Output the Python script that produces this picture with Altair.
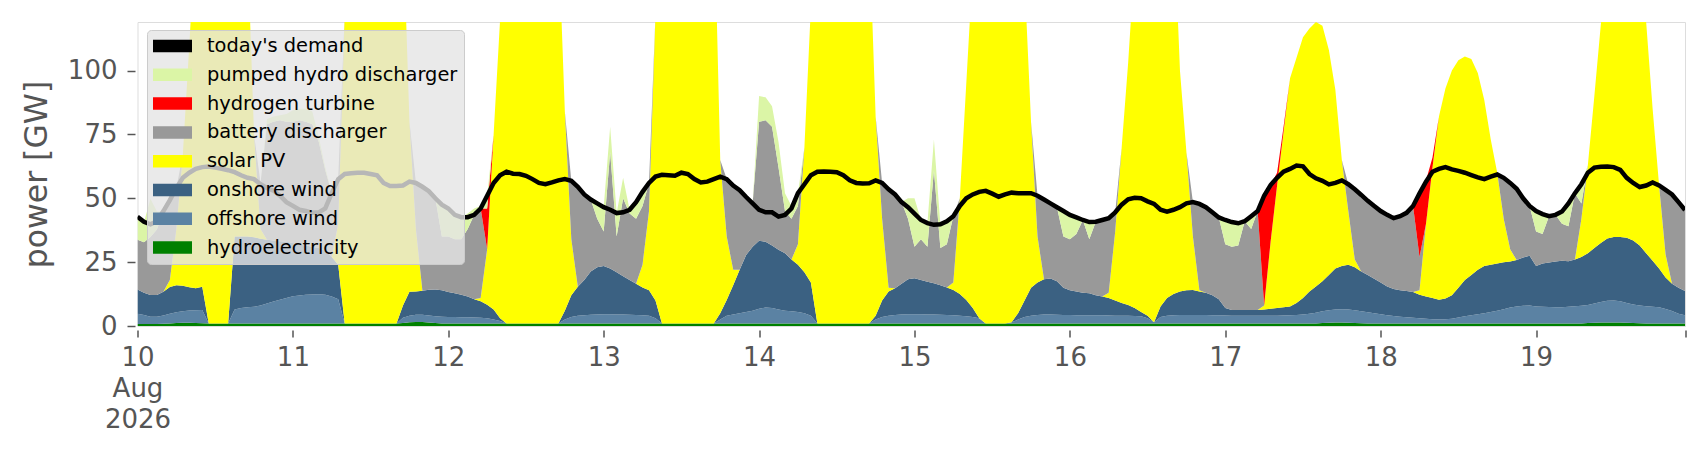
import altair as alt
import pandas as pd

# ---------------- data (hourly, 10 Aug 2026 00:00 UTC .. 19 Aug 2026 23:00 UTC) ----------------
demand = [
    42.8, 40.8, 39.8, 41, 45, 49.3, 54, 58, 60, 61.5, 62.2, 62.4, 62, 61.5, 61, 60.2, 59, 58, 57.5, 55.5, 54, 53, 51, 48.5,
    47, 45.5, 45, 44.3, 44.5, 46, 52, 57.5, 59.5, 59.8, 60, 60, 59.5, 59, 56, 54.8, 54.8, 55, 56.5, 56, 54.5, 52.8, 50, 47.5,
    46, 43.5, 42.6, 42.6, 43.5, 46, 51, 56, 59, 60.4, 59.6, 59.5, 58.8, 57.5, 56, 55.5, 56.2, 57, 57.5, 56.8, 54.5, 51.5, 49.5, 48,
    46.5, 45.5, 44.2, 44.5, 45.5, 48.5, 52.5, 56, 58.5, 59.2, 59, 58.8, 60, 59.5, 57.5, 56.2, 56.5, 57.5, 58.5, 57.5, 55, 53.2, 50.5, 48,
    45.5, 44.5, 44.5, 42.8, 43.5, 46, 52, 55.5, 59, 60.4, 60.5, 60.4, 60.2, 59, 57, 56, 55.8, 55.9, 57, 56, 53.5, 51.5, 48.5, 46.5,
    44, 41.5, 40.3, 39.6, 39.8, 41, 43, 47, 50, 51.5, 52.5, 52.9, 51.8, 50.6, 51.5, 52.2, 52, 52, 52, 51, 49.5, 48, 46.5, 45,
    43.5, 42.5, 41.5, 40.7, 40.8, 41.5, 42.2, 44.5, 47.5, 49.6, 50.2, 50, 48.8, 47.8, 45.5, 44.8, 45.5, 46.5, 48, 48.5, 47.8, 46.5, 44.5, 42.5,
    41.5, 40.7, 40.2, 41, 43, 45, 51, 55.2, 58, 60.4, 61.5, 62.8, 62.5, 59.5, 57.8, 56.8, 55.4, 56, 57, 55.5, 53.5, 51.3, 49, 47,
    45, 43.5, 42.2, 43, 44.3, 47, 51.9, 56.5, 60.4, 61.5, 62.2, 61.3, 60.7, 60, 59.1, 58.2, 57.5, 58.5, 59.3, 58, 56, 53.7, 50, 47,
    45, 43.8, 43, 43.5, 44.8, 48, 52, 55.5, 60, 62, 62.3, 62.4, 62.2, 61.1, 58, 56, 54.4, 55, 56.2, 55, 53.3, 51.5, 48.5, 45.4,
]

hydroelectricity = [
    0.8, 0.8, 0.8, 0.8, 0.9, 1.0, 1.2, 1.3, 1.3, 1.2, 1.1, 1.0, 1.0, 1.0, 1.0, 1.0, 1.0, 1.0, 1.0, 1.0, 1.0, 1.0, 1.0, 1.0,
    1.0, 1.0, 1.0, 1.0, 1.0, 1.0, 1.0, 1.0, 1.0, 1.0, 1.0, 1.0, 1.0, 1.0, 1.0, 1.0, 1.0, 1.2, 1.5, 1.6, 1.6, 1.4, 1.2, 1.0,
    1.0, 1.0, 1.0, 1.0, 1.0, 1.0, 1.0, 1.0, 1.0, 1.0, 1.0, 1.0, 1.0, 1.0, 1.0, 1.0, 1.0, 1.0, 1.0, 1.0, 1.0, 1.0, 1.0, 1.0,
    1.0, 1.0, 1.0, 1.0, 1.0, 1.0, 1.0, 1.0, 1.0, 1.0, 1.0, 1.0, 1.0, 1.0, 1.0, 1.0, 1.0, 1.0, 1.0, 1.0, 1.0, 1.0, 1.0, 1.0,
    1.0, 1.0, 1.0, 1.0, 1.0, 1.0, 1.0, 1.0, 1.0, 1.0, 1.0, 1.0, 1.0, 1.0, 1.0, 1.0, 1.0, 1.0, 1.0, 1.0, 1.0, 1.0, 1.0, 1.0,
    1.0, 1.0, 1.0, 1.0, 1.0, 1.0, 1.0, 1.0, 1.0, 1.0, 1.0, 1.0, 1.0, 1.0, 1.0, 1.0, 1.0, 1.0, 1.0, 1.0, 1.0, 1.0, 1.0, 1.0,
    1.0, 1.0, 1.0, 1.0, 1.0, 1.0, 1.0, 1.0, 1.0, 1.0, 1.0, 1.0, 1.0, 1.0, 1.0, 1.0, 1.0, 1.0, 1.0, 1.0, 1.0, 1.0, 1.0, 1.0,
    1.0, 1.0, 1.0, 1.0, 1.0, 1.0, 1.0, 1.0, 1.0, 1.0, 1.0, 1.0, 1.0, 1.0, 1.0, 1.2, 1.3, 1.4, 1.4, 1.3, 1.2, 1.1, 1.0, 1.0,
    1.0, 1.0, 1.0, 1.0, 1.0, 1.0, 1.0, 1.0, 1.0, 1.0, 1.0, 1.0, 1.0, 1.0, 1.0, 1.0, 1.0, 1.0, 1.0, 1.0, 1.0, 1.0, 1.0, 1.0,
    1.0, 1.0, 1.0, 1.0, 1.0, 1.0, 1.0, 1.0, 1.2, 1.3, 1.4, 1.4, 1.4, 1.4, 1.3, 1.2, 1.1, 1.0, 1.0, 1.0, 1.0, 1.0, 1.0, 1.0,
]

offshore_wind = [
    4.0, 3.5, 2.8, 2.8, 3.2, 3.8, 4.2, 4.5, 4.8, 5.0, 5.2, 0, 0, 0, 0, 5.5, 6.0, 6.3, 6.5, 7.0, 7.8, 8.6, 9.3, 10.0,
    10.6, 10.9, 11.2, 11.3, 11.4, 11.2, 10.5, 9.5, 0, 0, 0, 0, 0, 0, 0, 0, 0, 2.0, 2.5, 2.8, 2.8, 2.7, 2.6, 2.6,
    2.5, 2.5, 2.4, 2.4, 2.3, 2.2, 2.0, 1.5, 1.0, 0, 0, 0, 0, 0, 0, 0, 0, 0, 1.5, 2.5, 3.0, 3.2, 3.4, 3.5,
    3.6, 3.6, 3.5, 3.5, 3.4, 3.3, 3.2, 3.0, 2.0, 0, 0, 0, 0, 0, 0, 0, 0, 0, 1.5, 3.0, 3.5, 4.0, 4.5, 5.0,
    5.8, 6.2, 6.0, 5.5, 5.0, 4.8, 4.5, 4.0, 3.0, 0, 0, 0, 0, 0, 0, 0, 0, 0, 1.5, 2.5, 3.0, 3.3, 3.5, 3.6,
    3.6, 3.6, 3.5, 3.5, 3.4, 3.3, 3.2, 3.0, 2.8, 2.5, 2.0, 0, 0, 0, 0, 0.5, 1.5, 2.5, 3.0, 3.3, 3.5, 3.5, 3.4, 3.3,
    3.3, 3.2, 3.2, 3.2, 3.2, 3.2, 3.1, 3.0, 3.0, 3.0, 2.9, 2.8, 2.0, 0.5, 2.5, 3.0, 3.2, 3.3, 3.3, 3.3, 3.3, 3.3, 3.2, 3.2,
    3.1, 3.0, 3.0, 3.0, 3.0, 3.0, 3.0, 3.0, 3.0, 3.1, 3.2, 3.3, 3.5, 3.8, 4.2, 4.6, 4.9, 5.1, 5.2, 5.2, 5.0, 4.7, 4.4, 4.0,
    3.6, 3.2, 2.9, 2.6, 2.4, 2.2, 2.0, 1.8, 1.6, 1.5, 1.6, 1.8, 2.3, 2.8, 3.2, 3.6, 4.0, 4.5, 5.0, 5.6, 6.2, 6.6, 6.9, 7.0,
    6.6, 6.5, 6.4, 6.3, 6.3, 6.5, 6.7, 6.9, 7.0, 7.5, 8.0, 8.5, 8.6, 8.3, 7.7, 7.2, 6.9, 6.7, 6.5, 6.3, 5.7, 4.9, 3.8, 3.2,
]

onshore_wind = [
    9.5, 8.7, 8.5, 8.5, 9.3, 10.5, 10.6, 10.0, 9.1, 8.6, 9.1, 0, 0, 0, 0, 28.5, 28.0, 27.7, 27.2, 26.2, 25.0, 23.9, 22.9, 22.0,
    20.9, 20.1, 19.3, 18.7, 18.1, 17.3, 15.5, 13.5, 0, 0, 0, 0, 0, 0, 0, 0, 0, 4.8, 9.4, 9.1, 9.4, 10.1, 10.5, 10.4,
    9.8, 9.3, 8.8, 8.1, 7.2, 6.5, 5.3, 4.0, 1.0, 0, 0, 0, 0, 0, 0, 0, 0, 0, 3.5, 8.5, 11.4, 13.8, 16.9, 18.5,
    18.9, 17.9, 16.5, 15.0, 13.6, 12.2, 10.9, 10.0, 7.0, 0, 0, 0, 0, 0, 0, 0, 0, 0, 2.5, 6.2, 11.5, 17.0, 22.3, 25.0,
    26.6, 25.8, 24.5, 23.3, 22.5, 20.2, 18.5, 16.0, 13.0, 0, 0, 0, 0, 0, 0, 0, 0, 0, 1.5, 6.5, 9.5, 10.5, 12.0, 13.7,
    14.1, 13.4, 12.8, 12.2, 11.6, 10.8, 9.9, 8.5, 6.4, 3.5, 0, 0, 0, 0, 0, 0, 2.5, 6.5, 11.0, 12.7, 13.8, 14.1, 13.1, 10.7,
    9.7, 9.3, 8.8, 8.6, 7.8, 7.3, 6.9, 6.0, 5.0, 4.2, 3.1, 1.7, 1.0, 0, 4.1, 7.0, 8.3, 9.2, 9.7, 9.8, 9.2, 8.7, 7.8, 6.3,
    2.9, 2.3, 2.3, 2.3, 2.3, 2.3, 2.5, 2.8, 3.0, 3.2, 3.4, 4.7, 6.5, 8.7, 10.3, 11.7, 13.8, 16.0, 16.9, 17.5, 16.8, 15.5, 14.6, 13.5,
    12.4, 11.3, 10.6, 10.4, 10.3, 10.1, 9.2, 8.7, 8.4, 7.8, 8.2, 9.2, 11.7, 14.2, 15.8, 17.4, 18.5, 18.5, 18.5, 18.4, 18.0, 18.2, 18.9, 19.5,
    15.9, 17.0, 17.5, 17.9, 18.2, 17.8, 18.3, 19.1, 20.3, 21.7, 23.1, 24.4, 24.8, 25.1, 25.5, 25.1, 23.5, 20.8, 18.0, 15.2, 12.3, 10.6, 10.2, 9.5,
]

solar_pv = [
    0, 0, 0, 0, 0, 2.7, 22, 51.2, 94.8, 140.2, 142.6, 159, 159, 157, 154, 120, 117, 113, 40.3, 3.8, 0, 0, 0, 0,
    0, 0, 0, 0, 0, 0, 0, 16, 121, 149, 155, 157, 159, 159, 159, 159, 159, 150, 66.6, 24.5, 0, 0, 0, 0,
    0, 0, 0, 0, 0, 1.3, 21.7, 68.5, 117, 144, 154, 157, 159, 159, 159, 157, 155, 153, 78, 22, 0, 0, 0, 0,
    0, 0, 0, 0, 0, 0, 8.9, 31, 112, 149, 155, 159, 161, 164, 166, 167, 169, 169, 60, 24.8, 6, 0, 0, 0,
    0, 0, 0, 0, 0, 0, 8, 49, 108, 149, 154, 157, 159, 159, 159, 157, 156, 155, 78, 32, 1.5, 0, 0, 0,
    0, 0, 0, 0, 0, 0, 2.9, 37.5, 84.8, 133, 147, 154, 157, 157, 155, 150.5, 143, 126, 65, 18, 0, 0, 0, 0,
    0, 0, 0, 0, 0, 0, 2, 27, 61, 94.8, 136, 146.5, 151, 156.5, 152.4, 151, 150.5, 86.5, 54, 20.9, 0.5, 0, 0, 0,
    0, 0, 0, 0, 0, 0, 1.5, 26.2, 48, 68.7, 89.4, 96, 102, 103, 103.5, 100, 88, 70, 41.5, 21, 3, 0, 0, 0,
    0, 0, 0, 0, 0, 0, 1.8, 28.5, 51, 71.7, 82.2, 88, 89, 87.5, 84.5, 77, 65, 49, 35.5, 17, 4.8, 0, 0, 0,
    0, 0, 0, 0, 0, 0, 0, 15, 34.5, 59.5, 85.5, 105.7, 115.2, 117.2, 117.5, 114.5, 108.5, 90.5, 59.5, 32.5, 9, 0, 0, 0,
]

battery_discharger = [
    19.5, 19.8, 22.7, 25.7, 31.5, 31.3, 16, 0, 0, 0, 0, 0, 0, 0, 0, 0, 0, 0, 0, 18, 45.2, 46.5, 47.3, 47,
    47.5, 48.5, 48.5, 48, 41.5, 31.5, 25, 17.5, 0, 0, 0, 0, 0, 0, 0, 0, 0, 0, 0, 18, 40.7, 38.6, 35.7, 21,
    21.7, 21.2, 21.8, 26.5, 33, 35, 0, 0, 0, 0, 0, 0, 0, 0, 0, 0, 0, 0, 0, 22.8, 39.1, 33.5, 28.2, 19,
    13.5, 45.5, 14, 30.5, 26, 25.5, 23, 11, 0, 0, 0, 0, 0, 0, 0, 0, 0, 0, 0, 22.5, 33, 31.2, 22.7, 17,
    46.6, 47.5, 46.5, 32.2, 16.5, 16, 15, 0, 0, 0, 0, 0, 0, 0, 0, 0, 0, 0, 0, 14, 38.5, 36.7, 32, 23.7,
    12.3, 16, 13.7, 44.3, 14.5, 16.9, 26, 0, 0, 0, 0, 0, 0, 0, 0, 0, 0, 0, 0, 16, 31.2, 29.4, 29, 20,
    20, 22.5, 28.5, 21.2, 28.8, 30, 29.2, 7.5, 0, 0, 0, 0, 0, 0, 0, 0, 0, 0, 0, 13.5, 33.8, 33.5, 32.5, 32,
    25, 24.7, 25.2, 34.7, 31.7, 38.7, 0, 0, 0, 0, 0, 0, 0, 0, 0, 0, 0, 0, 0, 10.5, 27.5, 30, 29, 28.5,
    28, 28, 27.7, 29, 30.6, 33.7, 13, 0, 0, 0, 0, 0, 0, 0, 0, 0, 0, 0, 0, 16, 26, 27.9, 23.2, 19.5,
    13.5, 11.5, 18.1, 18.3, 14.5, 13.7, 26, 6, 0, 0, 0, 0, 0, 0, 0, 0, 0, 0, 0, 0, 25.3, 35, 33.5, 31.7,
]

hydrogen_turbine = [
    0, 0, 0, 0, 0, 0, 0, 0, 0, 0, 0, 0, 0, 0, 0, 0, 0, 0, 0, 0, 0, 0, 0, 0,
    0, 0, 0, 0, 0, 0, 0, 0, 0, 0, 0, 0, 0, 0, 0, 0, 0, 0, 0, 0, 0, 0, 0, 0,
    0, 0, 0, 0, 0, 0, 16, 0, 0, 0, 0, 0, 0, 0, 0, 0, 0, 0, 0, 0, 0, 0, 0, 0,
    0, 0, 0, 0, 0, 0, 0, 0, 0, 0, 0, 0, 0, 0, 0, 0, 0, 0, 0, 0, 0, 0, 0, 0,
    0, 0, 0, 0, 0, 0, 0, 0, 0, 0, 0, 0, 0, 0, 0, 0, 0, 0, 0, 0, 0, 0, 0, 0,
    0, 0, 0, 0, 0, 0, 0, 0, 0, 0, 0, 0, 0, 0, 0, 0, 0, 0, 0, 0, 0, 0, 0, 0,
    0, 0, 0, 0, 0, 0, 0, 0, 0, 0, 0, 0, 0, 0, 0, 0, 0, 0, 0, 0, 0, 0, 0, 0,
    0, 0, 0, 0, 0, 0, 43, 22.2, 5, 2, 0, 0, 0, 0, 0, 0, 0, 0, 0, 0, 0, 0, 0, 0,
    0, 0, 0, 0, 0, 0, 24.9, 17, 4, 0, 0, 0, 0, 0, 0, 0, 0, 0, 0, 0, 0, 0, 0, 0,
    0, 0, 0, 0, 0, 0, 0, 0, 0, 0, 0, 0, 0, 0, 0, 0, 0, 0, 0, 0, 0, 0, 0, 0,
]

pumped_hydro_discharger = [
    8.8, 7.8, 15, 7, 0, 0, 0, 0, 0, 0, 0, 0, 0, 0, 0, 0, 0, 0, 0, 0, 2, 2, 2, 3,
    4.5, 4.5, 5, 5, 2, 1, 0, 0, 0, 0, 0, 0, 0, 0, 0, 0, 0, 0, 0, 0, 0, 0, 0, 12.5,
    11, 9.5, 8.6, 6, 2.5, 1, 5, 0, 0, 0, 0, 0, 0, 0, 0, 0, 0, 0, 0, 0, 0, 0, 0, 6,
    9.5, 10, 9.2, 8, 1.5, 6.5, 5.5, 0, 0, 0, 0, 0, 0, 0, 0, 0, 0, 0, 0, 0, 0, 0, 0, 0,
    10, 9, 8, 10, 7, 5, 5, 0, 0, 0, 0, 0, 0, 0, 0, 0, 0, 0, 0, 0, 0, 0, 0, 8,
    19, 7.5, 9.3, 12, 9.3, 9, 0, 0, 0, 0, 0, 0, 0, 0, 0, 0, 0, 0, 0, 0, 0, 0, 0, 10,
    9.5, 6.5, 0, 6.7, 0, 0, 0, 0, 0, 0, 0, 0, 0, 0, 0, 0, 0, 0, 0, 0, 0, 0, 0, 0,
    9.5, 9.7, 8.7, 0, 5, 0, 0, 0, 0, 0, 0, 0, 0, 0, 0, 0, 0, 0, 0, 0, 0, 0, 0, 0,
    0, 0, 0, 0, 0, 0, 0, 0, 0, 0, 0, 0, 0, 0, 0, 0, 0, 0, 0, 0, 0, 0, 0, 0,
    8, 7.8, 0, 0, 4.8, 9, 0, 7.5, 0, 0, 0, 0, 0, 0, 0, 0, 0, 0, 0, 0, 0, 0, 0, 0,
]

# stacking order bottom -> top
stack_names = ["hydroelectricity", "offshore wind", "onshore wind", "solar PV",
               "battery discharger", "hydrogen turbine", "pumped hydro discharger"]
stack_values = [hydroelectricity, offshore_wind, onshore_wind, solar_pv,
                battery_discharger, hydrogen_turbine, pumped_hydro_discharger]

# legend order (top -> bottom) and colours
legend_names = ["today's demand", "pumped hydro discharger", "hydrogen turbine", "battery discharger",
                "solar PV", "onshore wind", "offshore wind", "hydroelectricity"]
legend_colors = ["#000000", "#dbf5a6", "#ff0000", "#999999", "#ffff00", "#3b6182", "#5b82a3", "#008000"]

x_tick_labels = ["10", "11", "12", "13", "14", "15", "16", "17", "18", "19"]

# ---------------- build tables ----------------
times = pd.date_range("2026-08-10", periods=240, freq="h", tz="UTC")
time_str = [t.strftime("%Y-%m-%dT%H:%M:%SZ") for t in times]

rows = []
for k, (name, vals) in enumerate(zip(stack_names, stack_values)):
    for ts, v in zip(time_str, vals):
        rows.append({"time": ts, "series": name, "value": v, "order": k})
long_df = pd.DataFrame(rows)
demand_df = pd.DataFrame({"time": time_str, "demand": demand})

tick_ms = [int(pd.Timestamp(f"2026-08-{d}", tz="UTC").value // 10**6) for d in x_tick_labels]
tick_ms.append(int(times[-1].value // 10**6))

FONT = "DejaVu Sans"
GREY = "#555555"

rect = "M-1,-0.32L1,-0.32L1,0.32L-1,0.32Z"

x_enc = alt.X(
    "time:T",
    scale=alt.Scale(type="utc"),
    axis=alt.Axis(
        title=None, values=tick_ms, domain=False, grid=False,
        labelExpr="datum.index >= 0.999 ? '' : (utcFormat(datum.value, '%d') == '10' ? ['10', 'Aug', '2026'] : utcFormat(datum.value, '%d'))",
        labelFont=FONT, labelFontSize=26, labelColor=GREY, labelPadding=7, labelLineHeight=31,
        labelFlush=False, labelOverlap=False, tickColor=GREY, tickSize=7, tickWidth=1.5, offset=4,
    ),
)
y_scale = alt.Scale(domain=[0, 119], nice=False, zero=True)
y_axis = alt.Axis(
    title="power [GW]", values=[0, 25, 50, 75, 100], domain=False, grid=False,
    labelFont=FONT, labelFontSize=26, labelColor=GREY, labelPadding=10,
    tickColor=GREY, tickSize=8, tickWidth=1.5, offset=2.5,
    titleFont=FONT, titleFontSize=31.5, titleFontWeight="normal", titleColor=GREY, titlePadding=14,
)

legend_def = alt.Legend(
    title=None, orient="none", legendX=9.5, legendY=8,
    fillColor="rgba(229,229,229,0.8)", strokeColor="#cccccc", cornerRadius=4, padding=6,
    labelFont=FONT, labelFontSize=19.4, labelColor="#000000", labelOffset=15, labelLimit=0,
    symbolType=rect, symbolSize=1521, symbolOpacity=1, symbolStrokeWidth=0, symbolOffset=0,
    clipHeight=20, rowPadding=8.8,
)

areas = alt.Chart(long_df).mark_area(clip=True, interpolate="linear").encode(
    x=x_enc,
    y=alt.Y("value:Q", stack="zero", scale=y_scale, axis=y_axis),
    color=alt.Color("series:N", scale=alt.Scale(domain=legend_names, range=legend_colors), legend=legend_def),
    order=alt.Order("order:Q", sort="ascending"),
)

line = alt.Chart(demand_df).mark_line(clip=True, color="black", strokeWidth=4.5).encode(
    x="time:T",
    y=alt.Y("demand:Q", scale=y_scale),
)

chart = alt.layer(areas, line).properties(
    width=1547.5, height=304,
    padding={"left": 129.5, "top": 14, "right": 10, "bottom": 110},
    autosize=alt.AutoSizeParams(type="none"),
).configure_view(strokeWidth=0).configure(font=FONT, background="white")

chart.save("out.html", embed_options={"renderer": "svg", "actions": False})
